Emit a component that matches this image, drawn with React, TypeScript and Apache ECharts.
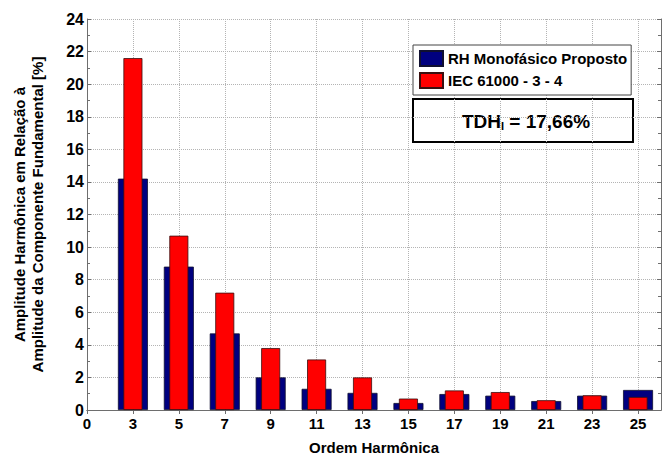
import { useEffect, useRef } from 'react';
import * as echarts from 'echarts';

// Harmonic orders and amplitudes (% of the fundamental)
const harmonicOrders = [3, 5, 7, 9, 11, 13, 15, 17, 19, 21, 23, 25];
const proposedRH = [14.2, 8.8, 4.7, 2.0, 1.3, 1.05, 0.43, 0.98, 0.88, 0.55, 0.88, 1.23];
const iecLimits = [21.6, 10.7, 7.2, 3.8, 3.1, 2.0, 0.7, 1.2, 1.1, 0.6, 0.9, 0.8];

// X ticks sit at odd orders; the first one is labelled "0"
const xTickValues = [1, 3, 5, 7, 9, 11, 13, 15, 17, 19, 21, 23, 25];
const xTickLabels = ['0', '3', '5', '7', '9', '11', '13', '15', '17', '19', '21', '23', '25'];

const seriesNames = ['RH Monofásico Proposto', 'IEC 61000 - 3 - 4'];
const tdhText = { label: 'TDH', sub: 'I', value: ' = 17,66%' };

const FONT = '"Liberation Sans", Arial, sans-serif';
const AXIS_GRAY = '#6e6e6e';
const GRID_GRAY = '#b4b4b4';

export default function App() {
  const ref = useRef<HTMLDivElement>(null);

  useEffect(() => {
    document.body.style.margin = '0';
    if (!ref.current) return;
    const chart = echarts.init(ref.current, null, { renderer: 'svg' });

    const axisLine = { show: true, lineStyle: { color: AXIS_GRAY, width: 1 } };
    const tickStyle = { lineStyle: { color: AXIS_GRAY, width: 1 } };

    chart.setOption({
      animation: false,
      backgroundColor: '#ffffff',
      textStyle: { fontFamily: FONT },
      grid: { left: 87, top: 19, right: 5, bottom: 45, outerBoundsMode: 'none', containLabel: false },
      legend: {
        data: seriesNames,
        orient: 'vertical',
        left: 413,
        top: 45,
        icon: 'rect',
        itemWidth: 23,
        itemHeight: 15,
        itemGap: 5,
        padding: [5, 4, 6, 6],
        backgroundColor: '#ffffff',
        borderColor: '#444444',
        borderWidth: 1,
        textStyle: { fontFamily: FONT, fontWeight: 'bold', fontSize: 15, color: '#000' },
      },
      xAxis: [
        {
          type: 'value',
          min: 1,
          max: 26,
          position: 'bottom',
          axisLine,
          axisTick: { show: true, inside: true, length: 4, customValues: xTickValues, ...tickStyle },
          axisLabel: {
            customValues: xTickValues,
            formatter: (v: number) => xTickLabels[xTickValues.indexOf(v)] ?? '',
            fontFamily: FONT,
            fontWeight: 'bold',
            fontSize: 15,
            color: '#000',
            margin: 6,
          },
          splitLine: { show: true, lineStyle: { color: GRID_GRAY, type: 'dotted', width: 1 } },
          name: 'Ordem Harmônica',
          nameLocation: 'middle',
          nameGap: 30,
          nameTextStyle: { fontFamily: FONT, fontWeight: 'bold', fontSize: 15, color: '#000', verticalAlign: 'top' },
        },
        {
          type: 'value',
          min: 1,
          max: 26,
          position: 'top',
          axisLine,
          axisTick: { show: true, inside: true, length: 4, customValues: xTickValues, ...tickStyle },
          axisLabel: { show: false },
          splitLine: { show: false },
        },
      ],
      yAxis: [
        {
          type: 'value',
          min: 0,
          max: 24,
          interval: 2,
          position: 'left',
          axisLine,
          axisTick: { show: true, inside: true, length: 4, ...tickStyle },
          minorTick: { show: true, splitNumber: 2, length: 3, lineStyle: { color: AXIS_GRAY } },
          axisLabel: { fontFamily: FONT, fontWeight: 'bold', fontSize: 16, color: '#000', margin: 3 },
          splitLine: { show: true, lineStyle: { color: GRID_GRAY, type: 'dotted', width: 1 } },
          name: 'Amplitude Harmônica em Relação à\nAmplitude da Componente Fundamental [%]',
          nameLocation: 'middle',
          nameRotate: 90,
          nameGap: 40,
          nameTextStyle: { fontFamily: FONT, fontWeight: 'bold', fontSize: 15, color: '#000', lineHeight: 18.5 },
        },
        {
          type: 'value',
          min: 0,
          max: 24,
          interval: 2,
          position: 'right',
          axisLine,
          axisTick: { show: true, inside: true, length: 4, ...tickStyle },
          minorTick: { show: true, splitNumber: 2, length: 3, lineStyle: { color: AXIS_GRAY } },
          axisLabel: { show: false },
          splitLine: { show: false },
        },
      ],
      series: [
        {
          name: seriesNames[0],
          type: 'bar',
          xAxisIndex: 0,
          yAxisIndex: 0,
          barWidth: 30,
          itemStyle: { color: '#00007f', borderColor: '#101030', borderWidth: 0.8 },
          data: harmonicOrders.map((h, i) => [h, proposedRH[i]]),
        },
        {
          name: seriesNames[1],
          type: 'bar',
          xAxisIndex: 1,
          yAxisIndex: 0,
          barWidth: 19,
          itemStyle: { color: '#ff0000', borderColor: '#3a1010', borderWidth: 0.8 },
          data: harmonicOrders.map((h, i) => [h, iecLimits[i]]),
        },
      ],
      graphic: [
        {
          type: 'group',
          left: 412,
          top: 98,
          children: [
            {
              type: 'rect',
              shape: { x: 0, y: 0, width: 220, height: 43 },
              style: { fill: '#ffffff', stroke: '#000000', lineWidth: 2 },
            },
            {
              type: 'text',
              x: 113,
              y: 22,
              style: {
                text: `{a|${tdhText.label}}{s|${tdhText.sub}}{a|${tdhText.value}}`,
                align: 'center',
                verticalAlign: 'middle',
                rich: {
                  a: { fontFamily: FONT, fontWeight: 'bold', fontSize: 19, fill: '#000', lineHeight: 22 },
                  s: { fontFamily: FONT, fontWeight: 'bold', fontSize: 11, fill: '#000', padding: [10, 0, 0, 0], lineHeight: 22 },
                },
              },
            },
          ],
        },
      ],
    });

    return () => chart.dispose();
  }, []);

  return <div ref={ref} style={{ width: 666, height: 455 }} />;
}
